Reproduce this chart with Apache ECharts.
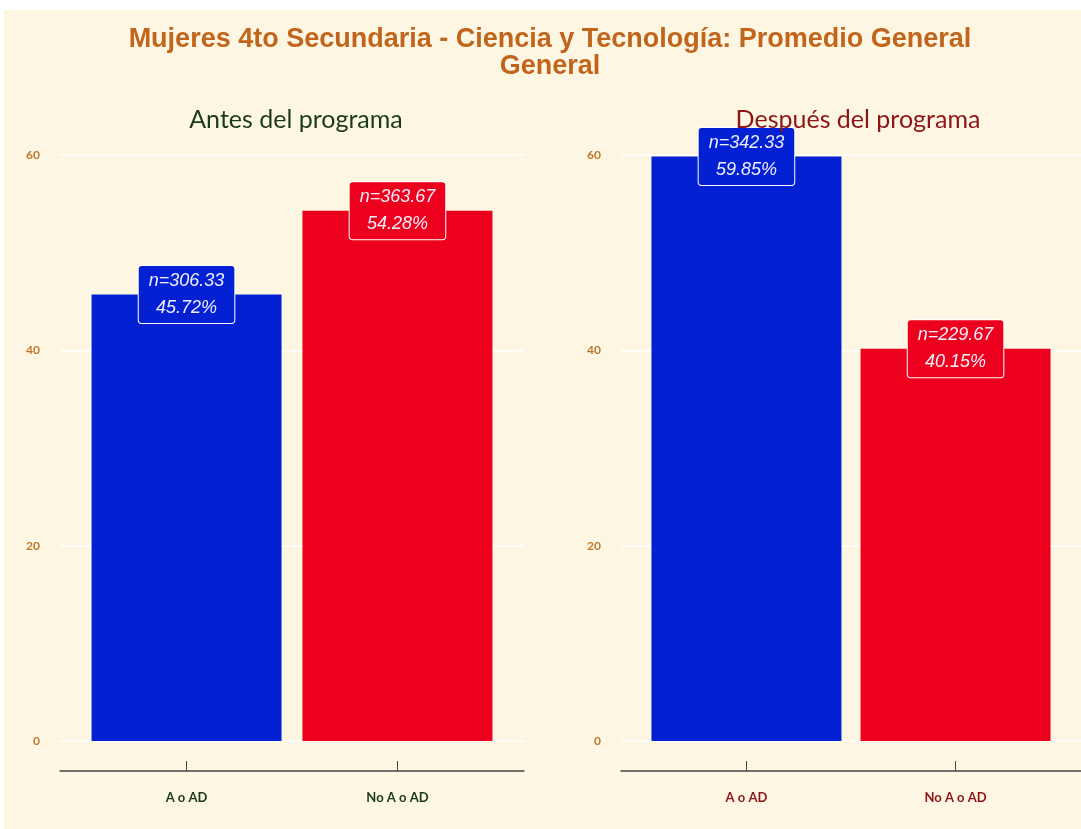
<!DOCTYPE html>
<html>
<head>
<meta charset="utf-8">
<script src="https://cdn.jsdelivr.net/npm/echarts@6/dist/echarts.min.js"></script>
<style>
html,body{margin:0;padding:0;background:#ffffff;}
#main{position:absolute;left:4px;top:10px;width:1077px;height:819px;}
</style>
</head>
<body>
<div id="main"></div>
<script>
var categorias=['A o AD','No A o AD'];
var posiciones=[1,2];
var antes_pct=[45.72,54.28];
var antes_n=[306.33,363.67];
var despues_pct=[59.85,40.15];
var despues_n=[342.33,229.67];
var y_ticks=[0,20,40,60];

var colores=['#0320D2','#EC001E'];
var fondo='#FDF6E3';

function datos_barras(pct,n){
	var d=[];
	for(var i=0;i<pct.length;i++){
		d.push({
			value:[posiciones[i],pct[i]],
			n:n[i],
			itemStyle:{color:colores[i]},
			label:{backgroundColor:colores[i]}
		});
	}
	return d;
}

function eje_x(idx,color){
	return {
		type:'value',gridIndex:idx,min:0.4,max:2.6,
		offset:30,
		axisLine:{show:true,onZero:false,lineStyle:{color:'#444444',width:1.5}},
		axisTick:{show:true,inside:true,length:10,customValues:posiciones,lineStyle:{color:'#444444',width:1}},
		axisLabel:{customValues:posiciones,margin:20,color:color,fontSize:13,fontWeight:'bold',fontFamily:'Lato',
			formatter:function(v){return categorias[Math.round(v)-1];}},
		splitLine:{show:false}
	};
}

function eje_y(idx){
	return {
		type:'value',gridIndex:idx,min:y_ticks[0],max:y_ticks[y_ticks.length-1],interval:20,
		axisLine:{show:false},axisTick:{show:false},
		axisLabel:{margin:20,color:'#C0772A',fontSize:12,fontWeight:'bold',fontFamily:'Lato'},
		splitLine:{show:true,lineStyle:{color:'#ffffff',width:1.5}}
	};
}

function serie(idx,pct,n){
	return {
		type:'bar',xAxisIndex:idx,yAxisIndex:idx,barWidth:190,
		data:datos_barras(pct,n),
		label:{
			show:true,position:['50%',0],align:'center',verticalAlign:'middle',
			color:'#EEEEFA',fontStyle:'italic',fontSize:18,fontFamily:'Liberation Sans',
			lineHeight:27,padding:[2,10,1,10],
			borderColor:'#ffffff',borderWidth:1,borderRadius:3,
			formatter:function(p){return 'n='+p.data.n.toFixed(2)+'\n'+p.data.value[1].toFixed(2)+'%';}
		}
	};
}

var myChart=echarts.init(document.getElementById('main'));
myChart.setOption({
	backgroundColor:fondo,
	animation:false,
	title:[
		{text:'Mujeres 4to Secundaria - Ciencia y Tecnología: Promedio General\nGeneral',left:541,top:11,textAlign:'center',
			textStyle:{color:'#C2651C',fontSize:27,fontWeight:'bold',fontFamily:'Liberation Sans',lineHeight:27}},
		{text:'Antes del programa',left:287,top:92,textAlign:'center',
			textStyle:{color:'#1B3A1B',fontSize:25,fontWeight:'normal',fontFamily:'Lato'}},
		{text:'Después del programa',left:849,top:92,textAlign:'center',
			textStyle:{color:'#8E1515',fontSize:25,fontWeight:'normal',fontFamily:'Lato'}}
	],
	grid:[
		{left:56,width:464,top:145,height:586},
		{left:617,width:463,top:145,height:586}
	],
	xAxis:[eje_x(0,'#1B3A1B'),eje_x(1,'#8E1515')],
	yAxis:[eje_y(0),eje_y(1)],
	series:[serie(0,antes_pct,antes_n),serie(1,despues_pct,despues_n)]
});
</script>
</body>
</html>
